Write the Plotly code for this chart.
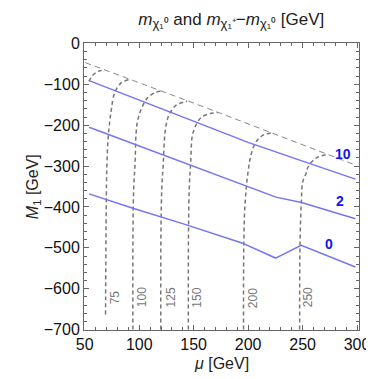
import plotly.graph_objects as go

# ---------------------------------------------------------------------------
# Data (mu [GeV], M1 [GeV])
# ---------------------------------------------------------------------------

# blue contours of m(chi1+) - m(chi1^0)
dm10_mu = [54, 100, 150, 200, 250, 298.5]
dm10_m1 = [-91, -139, -191, -242, -288, -332]

dm2_mu = [54, 100, 150, 200, 225.5, 249, 298.5]
dm2_m1 = [-205, -251, -300, -350, -376, -389, -429]

dm0_mu = [54, 94.2, 141.3, 176.6, 194.3, 225.2, 248.7, 298.5]
dm0_m1 = [-368, -403, -442, -472, -488, -525, -494, -547]

dm_labels = ["10", "2", "0"]
dm_label_mu = [287, 284, 274.5]
dm_label_m1 = [-270, -385, -490]

# boundary of the region (thin dashed)
edge_mu = [50.5, 163, 299]
edge_m1 = [-47, -159, -298]

# gray contours of m(chi1^0)
c50_mu = [53.8, 56.5, 59.7, 64, 68.6]
c50_m1 = [-93, -80, -72.5, -67, -64.5]

c75_mu = [69.1, 69.7, 70.3, 71.5, 73, 74.4, 77.4, 83.2, 90.6, 92]
c75_m1 = [-663, -400, -300, -230, -190, -162, -121, -97, -88.6, -88.5]

c100_mu = [94.2, 94.3, 95, 96.2, 97.1, 98.5, 101.5, 107.4, 114.8, 120.5]
c100_m1 = [-700, -450, -350, -293, -220, -190, -163, -134, -120, -117]

c125_mu = [119.8, 120, 120.8, 122.1, 123.6, 125.5, 128, 133.9, 141.3, 144]
c125_m1 = [-700, -450, -350, -293, -220, -190, -171, -151, -143, -141.5]

c150_mu = [145.1, 145.3, 146, 147.2, 148.6, 150.5, 153, 157.4, 164.8, 172]
c150_m1 = [-700, -450, -350, -293, -228, -210, -195, -180, -172, -169.5]

c200_mu = [195.8, 196, 197.2, 200.2, 203.1, 207.5, 213.4, 220.8]
c200_m1 = [-700, -500, -390, -309, -268, -240, -225, -219]

c250_mu = [247.3, 247.6, 248.8, 250.2, 253.2, 254.6, 258, 262, 266.4, 273]
c250_m1 = [-700, -500, -390, -338, -318, -305, -291, -281, -275.5, -271.5]

mchi_labels = ["75", "100", "125", "150", "200", "250"]
mchi_label_mu = [77.4, 102.1, 128.9, 153, 204, 254.6]
mchi_label_m1 = [-622, -622, -622, -622, -622, -622]

# ---------------------------------------------------------------------------
# Styles
# ---------------------------------------------------------------------------
_BLUE_LINE = "#7474f8"
_BLUE_TEXT = "#1414f0"
_GRAY      = "#777777"
_FRAME     = "#666666"
_FONT      = "Liberation Sans, Arial, sans-serif"

fig = go.Figure()

for mu, m1 in [(c50_mu, c50_m1), (c75_mu, c75_m1), (c100_mu, c100_m1),
               (c125_mu, c125_m1), (c150_mu, c150_m1), (c200_mu, c200_m1),
               (c250_mu, c250_m1)]:
    fig.add_trace(go.Scatter(
        x=mu, y=m1, mode="lines", line_shape="spline",
        line=dict(color=_GRAY, width=1.5, dash="4px,3px"),
        showlegend=False, hoverinfo="skip",
    ))

fig.add_trace(go.Scatter(
    x=edge_mu, y=edge_m1, mode="lines",
    line=dict(color="#8a8a8a", width=1, dash="6px,4px"),
    showlegend=False, hoverinfo="skip",
))

for mu, m1 in [(dm10_mu, dm10_m1), (dm2_mu, dm2_m1), (dm0_mu, dm0_m1)]:
    fig.add_trace(go.Scatter(
        x=mu, y=m1, mode="lines",
        line=dict(color=_BLUE_LINE, width=1.5),
        showlegend=False, hoverinfo="skip",
    ))

for lab, mu, m1 in zip(dm_labels, dm_label_mu, dm_label_m1):
    fig.add_annotation(
        x=mu, y=m1, text=f"<b>{lab}</b>", showarrow=False,
        font=dict(color=_BLUE_TEXT, size=14, family=_FONT),
    )

for lab, mu, m1 in zip(mchi_labels, mchi_label_mu, mchi_label_m1):
    fig.add_annotation(
        x=mu, y=m1, text=lab, textangle=-90, showarrow=False,
        font=dict(color=_GRAY, size=12, family=_FONT),
    )

# axis titles as annotations for exact placement
fig.add_annotation(
    xref="paper", yref="paper", x=-0.225, y=0.5,
    text="<i>M</i><sub>1</sub> [GeV]", textangle=-90, showarrow=False,
    font=dict(color="#222222", size=16, family=_FONT),
)
fig.add_annotation(
    xref="paper", yref="paper", x=0.5, y=-0.153,
    text="<i>μ</i> [GeV]", showarrow=False,
    font=dict(color="#222222", size=16, family=_FONT),
)

_axis = dict(
    showgrid=False, zeroline=False, showline=True, linecolor=_FRAME,
    linewidth=1, mirror="ticks", ticks="inside", ticklen=5,
    tickcolor=_FRAME, tickfont=dict(size=16, color="#111111", family=_FONT),
)

_chi = '<sub><span style="font-size:13px">χ₁%s</span></sub>'
title_text = ("<i>m</i>" + _chi % "⁰" + " and <i>m</i>" + _chi % "⁺"
              + "−<i>m</i>" + _chi % "⁰" + " [GeV]")

fig.update_layout(
    width=374, height=379,
    margin=dict(l=76, r=12, t=35, b=57),
    paper_bgcolor="white", plot_bgcolor="white",
    font=dict(family=_FONT, color="#222222"),
    title=dict(
        text=title_text,
        x=0.597, xanchor="center", y=0.972, yanchor="middle",
        font=dict(size=17, color="#222222", family=_FONT),
    ),
    xaxis=dict(_axis, range=[49.3, 301.8], tick0=50, dtick=50,
               minor=dict(dtick=10, ticklen=3, ticks="inside", tickcolor=_FRAME)),
    yaxis=dict(_axis, range=[-701, 1], tick0=0, dtick=100,
               minor=dict(dtick=20, ticklen=3, ticks="inside", tickcolor=_FRAME)),
)

fig.write_html("out.html")
